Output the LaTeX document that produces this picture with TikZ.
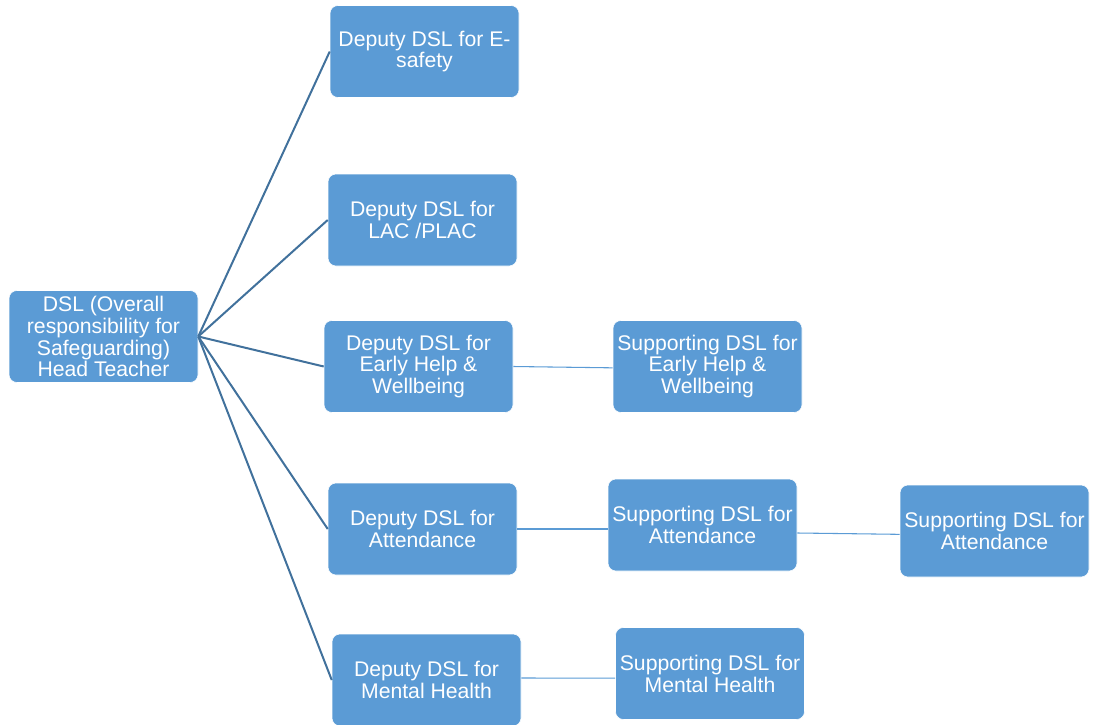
\documentclass[tikz,border=0pt]{standalone}
\usepackage{fontspec}
\setmainfont{Liberation Sans}
\usetikzlibrary{positioning}
\definecolor{boxblue}{HTML}{5B9BD5}
\definecolor{linkblue}{HTML}{41719C}

\begin{document}
\begin{tikzpicture}[x=0.75pt,y=-0.75pt,
    role/.style={fill=boxblue,draw=white,line width=0.4pt,rounded corners=6pt,
        minimum width=141.75pt,minimum height=69pt,inner sep=1pt,
        text=white,align=center,font=\fontsize{15.9}{16.4}\selectfont},
    mainlink/.style={draw=linkblue,line width=1.5pt},
    sublink/.style={draw=boxblue,line width=0.8pt}]
                \useasboundingbox (0,0) rectangle (1093,725);
                \node[role] (dsl) at (103.5,336.5) {DSL (Overall\\responsibility for\\Safeguarding)\\Head Teacher};
                \node[role] (esafe) at (424.5,51.5) {Deputy DSL for E-\\safety};
                \node[role] (lac) at (422.5,220) {Deputy DSL for\\LAC /PLAC};
                \node[role] (help) at (418.5,366.5) {Deputy DSL for\\Early Help \&\\Wellbeing};
                \node[role] (att) at (422.5,529) {Deputy DSL for\\Attendance};
                \node[role] (mental) at (426.5,680) {Deputy DSL for\\Mental Health};
                \node[role] (suphelp) at (707.5,366.5) {Supporting DSL for\\Early Help \&\\Wellbeing};
                \node[role] (supatt) at (702.5,525) {Supporting DSL for\\Attendance};
                \node[role] (supattb) at (994.5,531) {Supporting DSL for\\Attendance};
                \node[role] (supmental) at (710,673.5) {Supporting DSL for\\Mental Health};
                \foreach \n in {esafe,lac,help,att,mental}
                    \draw[mainlink] (dsl.east) -- (\n.west);
                \draw[sublink] (help.east) -- ([yshift=-1pt]suphelp.west);
                \draw[sublink] (att.east) -- (att.east -| supatt.west);
                \draw[sublink] ([yshift=-6pt]supatt.east) -- ([yshift=-2.5pt]supattb.west);
                \draw[sublink] ([yshift=1.5pt]mental.east) -- ([yshift=-3.5pt]supmental.west);
            \end{tikzpicture}
\end{document}
